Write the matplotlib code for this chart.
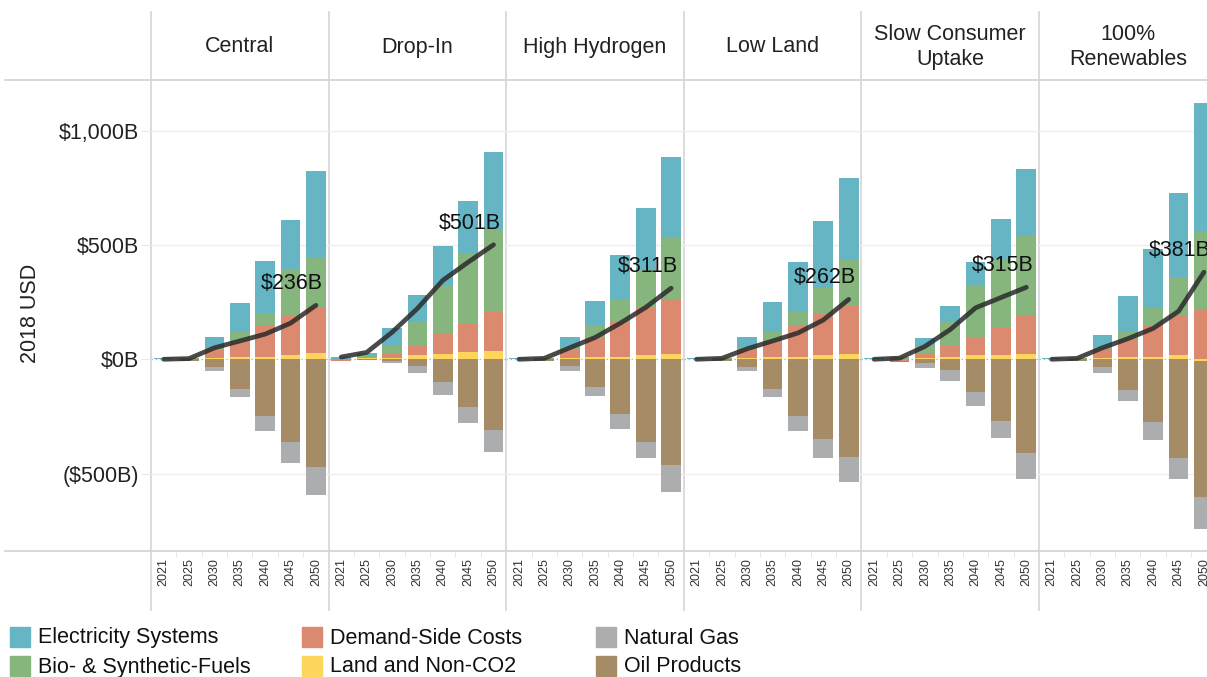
import matplotlib
matplotlib.use("Agg")
import matplotlib.pyplot as plt
from matplotlib.patches import Rectangle
import numpy as np

plt.rcParams['font.family'] = ['Liberation Sans', 'DejaVu Sans']

# ---- data (billions of 2018 USD) ----
years = ["2021", "2025", "2030", "2035", "2040", "2045", "2050"]
scenarios = ["Central", "Drop-In", "High Hydrogen", "Low Land",
             "Slow Consumer\nUptake", "100%\nRenewables"]

# one row per scenario, same order as above
electricity = [[4, 2, 46, 123, 226, 219, 380],
               [8, 11, 75, 118, 170, 230, 344],
               [4, 2, 46, 111, 193, 272, 353],
               [4, 2, 46, 128, 215, 290, 356],
               [4, 5, 34, 66, 105, 177, 287],
               [4, 2, 55, 154, 257, 367, 562]]
biofuels = [[0, 1, 12, 41, 56, 199, 215],
            [2, 4, 37, 105, 215, 308, 358],
            [0, 1, 12, 50, 95, 165, 269],
            [0, 1, 12, 39, 64, 115, 204],
            [0, 3, 37, 109, 225, 297, 353],
            [0, 1, 9, 36, 79, 170, 345]]
demand = [[0, 1, 35, 72, 134, 171, 202],
          [-8, 6, 17, 42, 88, 123, 171],
          [0, 1, 35, 86, 155, 205, 239],
          [0, 1, 35, 72, 133, 180, 207],
          [0, -8, 17, 46, 76, 121, 170],
          [0, 1, 38, 75, 133, 171, 216]]
land = [[0, 2, 6, 10, 12, 19, 26],
        [0, 5, 6, 17, 22, 31, 35],
        [0, 2, 6, 10, 12, 19, 23],
        [0, 2, 6, 10, 12, 19, 25],
        [0, 1, 6, 10, 18, 18, 22],
        [0, 2, 6, 10, 12, 19, -8]]
oil = [[0, -6, -32, -130, -247, -361, -471],
       [0, -5, -9, -28, -98, -208, -310],
       [0, -6, -29, -123, -240, -361, -463],
       [0, -6, -32, -130, -247, -349, -427],
       [0, -2, -15, -47, -145, -272, -412],
       [0, -6, -32, -135, -276, -434, -594]]
gas = [[0, -1, -21, -37, -66, -91, -123],
       [0, 0, -6, -33, -60, -73, -94],
       [0, -1, -24, -39, -63, -73, -116],
       [0, -1, -21, -37, -66, -85, -108],
       [0, 0, -23, -47, -58, -74, -110],
       [0, -1, -26, -46, -76, -88, -142]]
net = [[0, 3, 50, 80, 110, 158, 236],
       [10, 30, 118, 222, 345, 425, 501],
       [0, 4, 50, 95, 158, 227, 311],
       [0, 4, 46, 80, 115, 172, 262],
       [0, 5, 56, 130, 225, 270, 315],
       [0, 4, 50, 90, 135, 210, 381]]

ytick_vals = [1000, 500, 0, -500]
ytick_labels = ["$1,000B", "$500B", "$0B", "($500B)"]

# stacking order from zero outward, with colours
series = [("Land and Non-CO2", land, "#fdd55c"),
          ("Demand-Side Costs", demand, "#dc8a6f"),
          ("Bio- & Synthetic-Fuels", biofuels, "#86b57d"),
          ("Electricity Systems", electricity, "#66b5c4"),
          ("Oil Products", oil, "#a58b66"),
          ("Natural Gas", gas, "#acadaf")]
colors = {name: c for name, _, c in series}

# ---- layout in pixels ----
W, H = 1207, 677
panel_left = 151
panel_w = 177.6
top_y, bot_y = 80, 551
sep_col = "#d6d6d6"
fs = 15.5

fig = plt.figure(figsize=(W / 100, H / 100), dpi=100)

# overlay axis in pixel coords for separators, headers and legend
ov = fig.add_axes([0, 0, 1, 1], zorder=-1)
ov.set_xlim(0, W)
ov.set_ylim(H, 0)
ov.axis("off")

ov.plot([5, W], [top_y, top_y], color=sep_col, lw=1.3)
ov.plot([5, W], [bot_y, bot_y], color=sep_col, lw=1.3)
for i in range(len(scenarios) + 1):
    xs = panel_left + i * panel_w
    ov.plot([xs, xs], [12, 610], color=sep_col, lw=1.2)

for i, name in enumerate(scenarios):
    cx = panel_left + (i + 0.5) * panel_w
    ov.text(cx, 47, name, ha="center", va="center", fontsize=fs,
            color="#222222", linespacing=1.25)

ov.text(30, 313, "2018 USD", rotation=90, ha="center", va="center",
        fontsize=fs, color="#222222")

# legend, drawn by hand to match the fixed columns
legend_cols = [["Electricity Systems", "Bio- & Synthetic-Fuels"],
               ["Demand-Side Costs", "Land and Non-CO2"],
               ["Natural Gas", "Oil Products"]]
col_x = [10, 302, 596]
row_y = [637, 666]
for cx, names in zip(col_x, legend_cols):
    for ry, name in zip(row_y, names):
        ov.add_patch(Rectangle((cx, ry - 10), 20, 20, color=colors[name]))
        ov.text(cx + 28, ry + 1, name, ha="left", va="center",
                fontsize=fs, color="#111111")

x = np.arange(len(years))
ymin, ymax = -839, 1222

for i, name in enumerate(scenarios):
    left = panel_left + i * panel_w
    ax = fig.add_axes([left / W, 1 - bot_y / H, panel_w / W, (bot_y - top_y) / H])
    ax.set_facecolor("none")
    for s in ax.spines.values():
        s.set_visible(False)

    for g in [1000, 500, -500]:
        ax.axhline(g, color="#eeeeee", lw=1, zorder=0)
    ax.axhline(0, color="#b5b5b5", lw=1, ls=(0, (1, 2)), zorder=0)

    pos_base = np.zeros(len(years))
    neg_base = np.zeros(len(years))
    for sname, data, col in series:
        vals = np.array(data[i], dtype=float)
        pos = np.where(vals > 0, vals, 0)
        neg = np.where(vals < 0, vals, 0)
        ax.bar(x, pos, bottom=pos_base, width=0.78, color=col, zorder=2)
        ax.bar(x, neg, bottom=neg_base, width=0.78, color=col, zorder=2)
        pos_base += pos
        neg_base += neg

    ax.plot(x, net[i], color="#2a2a2a", lw=3.4, alpha=0.85,
            solid_capstyle="round", solid_joinstyle="round", zorder=4)
    ax.annotate(f"${net[i][-1]}B", xy=(x[-1], net[i][-1]), xytext=(5, 8),
                textcoords="offset points", ha="right", va="bottom",
                fontsize=fs, color="#111111", zorder=5)

    ax.set_xlim(-0.5, len(years) - 0.5)
    ax.set_ylim(ymin, ymax)
    ax.set_xticks(x)
    ax.set_xticklabels(years, rotation=90, fontsize=9, color="#333333")
    ax.set_xticks(x[:-1] + 0.5, minor=True)
    ax.tick_params(axis="x", which="major", length=0, pad=5)
    ax.tick_params(axis="x", which="minor", length=4, color="#e4e4e4")

    if i == 0:
        ax.set_yticks(ytick_vals)
        ax.set_yticklabels(ytick_labels, fontsize=fs, color="#222222")
        ax.tick_params(axis="y", length=7, color="#e8e8e8", pad=1.5)
    else:
        ax.set_yticks([])

fig.savefig("out.png", dpi=100)
